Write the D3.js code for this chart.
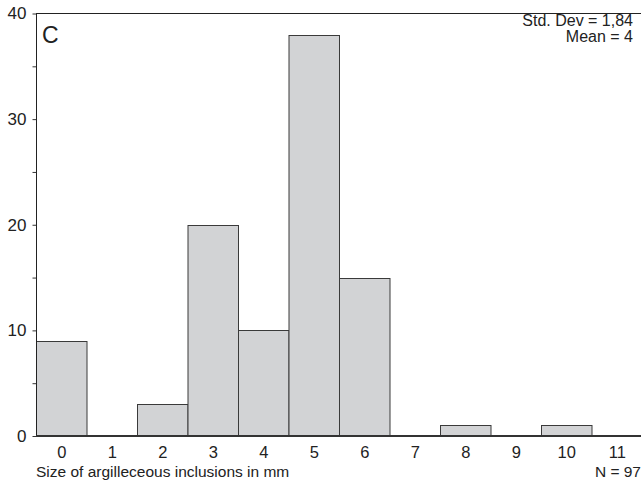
<!DOCTYPE html>
<html>
<head>
<meta charset="utf-8">
<script src="https://cdn.jsdelivr.net/npm/d3@7"></script>
<style>
	body { margin: 0; background: #fff; }
	text { font-family: "Liberation Sans", Arial, sans-serif; fill: #222; }
</style>
</head>
<body>
<div id="chart"></div>
<script>
// histogram bins (mm) and counts
var bins = [0, 1, 2, 3, 4, 5, 6, 7, 8, 9, 10, 11];
var counts = [9, 0, 3, 20, 10, 38, 15, 0, 1, 0, 1, 0];
var yTicks = [0, 10, 20, 30, 40];
var yMinorTicks = [5, 15, 25, 35];
var statLines = ["Std. Dev = 1,84", "Mean = 4"];

// NB: "top" clashes with window.top, so the plot edges get their own names
var W = 641, H = 484
	, plotL = 36, plotR = 642, plotT = 13.5, plotB = 436;

var svg = d3.select("#chart").append("svg")
	.attr("width", W).attr("height", H);

var x = d3.scaleLinear().domain([-0.5, 11.5]).range([plotL, plotR]);
var y = d3.scaleLinear().domain([0, 40]).range([plotB, plotT]);

// --- BARS --- \\
svg.selectAll(".bar").data(counts.map(function(c, i) { return {bin: bins[i], n: c}; })
	.filter(function(d) { return d.n > 0; }))
	.enter().append("rect")
	.attr("class", "bar")
	.attr("x", function(d) { return x(d.bin - 0.5) + 0.5; })
	.attr("width", function(d) { return x(d.bin + 0.5) - x(d.bin - 0.5); })
	.attr("y", function(d) { return Math.round(y(d.n)) + 0.5; })
	.attr("height", function(d) { return plotB - Math.round(y(d.n)) - 0.5; })
	.attr("fill", "#d2d3d5")
	.attr("stroke", "#3a3a3a")
	.attr("stroke-width", 1);

// --- Y AXIS --- \\
var yAxis = d3.axisLeft(y).tickValues(yTicks).tickSize(4).tickPadding(6);
var gy = svg.append("g").attr("transform", "translate(" + (plotL + 0.5) + ",0)").call(yAxis);
gy.select(".domain").remove();
gy.selectAll("line").attr("stroke", "#333");
gy.selectAll("text").style("font-size", "17px").attr("fill", "#222");

var yMinor = d3.axisLeft(y).tickValues(yMinorTicks).tickSize(4).tickFormat("");
var gym = svg.append("g").attr("transform", "translate(" + (plotL + 0.5) + ",0)").call(yMinor);
gym.select(".domain").remove();
gym.selectAll("line").attr("stroke", "#333");

// frame lines
svg.append("line").attr("x1", plotL + 0.5).attr("x2", plotL + 0.5).attr("y1", plotT).attr("y2", plotB)
	.attr("stroke", "#222");
svg.append("line").attr("x1", plotL).attr("x2", W).attr("y1", plotT).attr("y2", plotT)
	.attr("stroke", "#222");
svg.append("line").attr("x1", plotL).attr("x2", W).attr("y1", plotB).attr("y2", plotB)
	.attr("stroke", "#333").attr("stroke-width", 2);

// --- X AXIS --- \\
var xAxis = d3.axisBottom(x).tickValues(bins).tickSize(0).tickPadding(10).tickFormat(d3.format("d"));
var gx = svg.append("g").attr("transform", "translate(0," + plotB + ")").call(xAxis);
gx.select(".domain").remove();
gx.selectAll("text").style("font-size", "16.5px").attr("fill", "#222");

svg.append("text").attr("x", plotL).attr("y", 477)
	.style("font-size", "15.5px").text("Size of argilleceous inclusions in mm");
svg.append("text").attr("x", 641).attr("y", 477).attr("text-anchor", "end")
	.style("font-size", "15.5px").text("N = 97");

// panel letter and stats
svg.append("text").attr("x", 42).attr("y", 43).style("font-size", "23px").text("C");
svg.selectAll(".stat").data(statLines).enter().append("text")
	.attr("class", "stat")
	.attr("x", 633).attr("y", function(d, i) { return 26 + i * 16; })
	.attr("text-anchor", "end")
	.style("font-size", "16px")
	.text(function(d) { return d; });
</script>
</body>
</html>
